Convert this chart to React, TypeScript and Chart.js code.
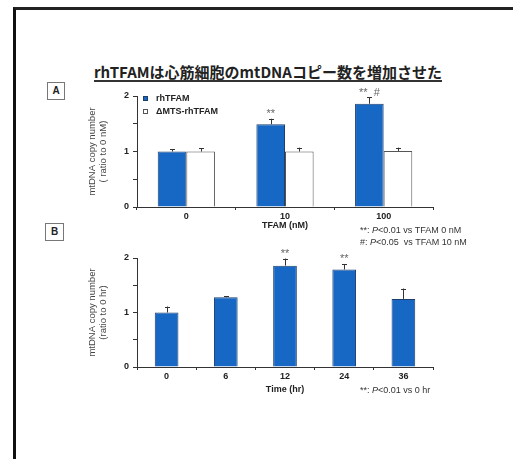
import React, { useEffect, useRef } from 'react';
import { Chart, registerables } from 'chart.js';

Chart.register(...registerables);

// ---------- data ----------
const doseLabels = ['0', '10', '100'];
const rhTFAM = [1.0, 1.49, 1.86];
const rhTFAMErr = [0.04, 0.1, 0.12];
const rhTFAMSig = ['', '**', '**  #'];
const mtsTFAM = [1.0, 1.0, 1.01];
const mtsTFAMErr = [0.06, 0.07, 0.06];
const mtsTFAMSig = ['', '', ''];

const timeLabels = ['0', '6', '12', '24', '36'];
const timeVals = [1.0, 1.28, 1.86, 1.79, 1.25];
const timeErr = [0.11, 0.02, 0.13, 0.1, 0.19];
const timeSig = ['', '', '**', '**', ''];

const yMin = 0;
const yMax = 2;
const yStep = 0.5;

const seriesNames = ['rhTFAM', 'ΔMTS-rhTFAM'];
const yTitleA = ['mtDNA copy number', '( ratio to 0 nM)'];
const yTitleB = ['mtDNA copy number', '(ratio to 0 hr)'];
const xTitleA = 'TFAM (nM)';
const xTitleB = 'Time (hr)';

const BLUE = '#1767c4';
const FONT = "'Liberation Sans', Arial, sans-serif";

const annotPlugin = {
  id: 'annot',
  afterDatasetsDraw(chart: any, _args: any, opts: any) {
    const ctx = chart.ctx;
    const ys = chart.scales.y;
    const ca = chart.chartArea;
    ctx.save();
    chart.data.datasets.forEach((ds: any, i: number) => {
      const meta = chart.getDatasetMeta(i);
      meta.data.forEach((bar: any, j: number) => {
        const v = ds.data[j];
        const base = ys.getPixelForValue(v);
        const top = ys.getPixelForValue(v + ds.errors[j]);
        ctx.strokeStyle = '#333';
        ctx.lineWidth = 1;
        ctx.beginPath();
        ctx.moveTo(Math.round(bar.x) + 0.5, base);
        ctx.lineTo(Math.round(bar.x) + 0.5, top);
        ctx.moveTo(Math.round(bar.x) - 2, Math.round(top) + 0.5);
        ctx.lineTo(Math.round(bar.x) + 3, Math.round(top) + 0.5);
        ctx.stroke();
        const s = ds.sig[j];
        if (s) {
          ctx.fillStyle = '#666';
          ctx.font = `11px ${FONT}`;
          ctx.textAlign = 'center';
          ctx.textBaseline = 'alphabetic';
          ctx.fillText(s, bar.x, top - 1.5);
        }
      });
    });
    // y title
    ctx.fillStyle = '#444';
    ctx.font = `9.5px ${FONT}`;
    ctx.textAlign = 'center';
    ctx.textBaseline = 'middle';
    ctx.translate(ca.left - 45, (ca.top + ca.bottom) / 2);
    ctx.rotate(-Math.PI / 2);
    ctx.fillText(opts.yTitle[0], 0, 0);
    ctx.fillText(opts.yTitle[1], 0, 11);
    ctx.restore();
    // x title
    ctx.save();
    ctx.fillStyle = '#222';
    ctx.font = `bold 9px ${FONT}`;
    ctx.textAlign = 'center';
    ctx.textBaseline = 'middle';
    ctx.fillText(opts.xTitle, (ca.left + ca.right) / 2, ca.bottom + opts.xTitleGap);
    // legend
    if (opts.legend) {
      chart.data.datasets.forEach((ds: any, i: number) => {
        const ly = ca.top + 2 + i * 13;
        const lx = ca.left + 6;
        ctx.fillStyle = ds.backgroundColor;
        ctx.fillRect(lx, ly - 2, 5, 5);
        ctx.strokeStyle = ds.borderColor;
        ctx.lineWidth = 1;
        ctx.strokeRect(lx + 0.5, ly - 1.5, 4, 4);
        ctx.fillStyle = '#222';
        ctx.font = `bold 9px ${FONT}`;
        ctx.textAlign = 'left';
        ctx.textBaseline = 'middle';
        ctx.fillText(ds.label, lx + 13, ly + 0.5);
      });
    }
    ctx.restore();
  },
};

function scales(tickColor = '#222') {
  return {
    x: {
      type: 'category' as const,
      afterFit(s: any) {
        s.height = 22;
      },
      grid: { display: true, drawOnChartArea: false, offset: true, tickLength: 3, color: '#333' },
      border: { display: true, color: '#333', width: 1 },
      ticks: { color: tickColor, font: { family: FONT, size: 9, weight: 'bold' as const }, padding: 1 },
    },
    y: {
      min: yMin,
      max: yMax,
      afterFit(s: any) {
        s.width = 137;
      },
      grid: { display: true, drawOnChartArea: false, tickLength: 4, color: '#333' },
      border: { display: true, color: '#333', width: 1 },
      ticks: {
        stepSize: yStep,
        color: tickColor,
        padding: 4,
        font: { family: FONT, size: 9, weight: 'bold' as const },
        callback: (v: any) => (Number.isInteger(Number(v)) ? String(v) : ''),
      },
    },
  };
}

function ChartA() {
  const ref = useRef<HTMLCanvasElement>(null);
  useEffect(() => {
    const chart = new Chart(ref.current!, {
      type: 'bar',
      data: {
        labels: doseLabels,
        datasets: [
          {
            label: seriesNames[0],
            data: rhTFAM,
            errors: rhTFAMErr,
            sig: rhTFAMSig,
            backgroundColor: BLUE,
            borderColor: '#1d3f6c',
            borderWidth: 1,
            categoryPercentage: 0.58,
            barPercentage: 1,
          } as any,
          {
            label: seriesNames[1],
            data: mtsTFAM,
            errors: mtsTFAMErr,
            sig: mtsTFAMSig,
            backgroundColor: '#ffffff',
            borderColor: '#555',
            borderWidth: 1,
            categoryPercentage: 0.58,
            barPercentage: 1,
          } as any,
        ],
      },
      options: {
        responsive: false,
        animation: false,
        devicePixelRatio: 1,
        layout: { padding: { left: 0, top: 96, right: 80, bottom: 459 - 207 - 22 } },
        scales: scales() as any,
        plugins: {
          legend: { display: false },
          tooltip: { enabled: false },
          annot: { yTitle: yTitleA, xTitle: xTitleA, xTitleGap: 19, legend: true },
        } as any,
      },
      plugins: [annotPlugin],
    });
    return () => chart.destroy();
  }, []);
  return <canvas ref={ref} width={513} height={459} style={{ position: 'absolute', left: 0, top: 0 }} />;
}

function ChartB() {
  const ref = useRef<HTMLCanvasElement>(null);
  useEffect(() => {
    const chart = new Chart(ref.current!, {
      type: 'bar',
      data: {
        labels: timeLabels,
        datasets: [
          {
            label: seriesNames[0],
            data: timeVals,
            errors: timeErr,
            sig: timeSig,
            backgroundColor: BLUE,
            borderColor: '#1d3f6c',
            borderWidth: 1,
            categoryPercentage: 0.4,
            barPercentage: 1,
          } as any,
        ],
      },
      options: {
        responsive: false,
        animation: false,
        devicePixelRatio: 1,
        layout: { padding: { left: 0, top: 258, right: 80, bottom: 459 - 367 - 22 } },
        scales: scales() as any,
        plugins: {
          legend: { display: false },
          tooltip: { enabled: false },
          annot: { yTitle: yTitleB, xTitle: xTitleB, xTitleGap: 23, legend: false },
        } as any,
      },
      plugins: [annotPlugin],
    });
    return () => chart.destroy();
  }, []);
  return <canvas ref={ref} width={513} height={459} style={{ position: 'absolute', left: 0, top: 0 }} />;
}

const noteStyle: React.CSSProperties = {
  position: 'absolute',
  left: 360,
  fontFamily: FONT,
  fontSize: 9,
  lineHeight: '11px',
  color: '#333',
  whiteSpace: 'nowrap',
};

const boxStyle: React.CSSProperties = {
  position: 'absolute',
  boxSizing: 'border-box',
  border: '1px solid #777',
  fontFamily: FONT,
  fontWeight: 'bold',
  fontSize: 10,
  textAlign: 'center',
  color: '#222',
};

export default function App() {
  return (
    <div
      style={{
        position: 'absolute',
        left: 0,
        top: 0,
        width: 513,
        height: 459,
        overflow: 'hidden',
        background: '#fff',
      }}
    >
      <div
        style={{
          position: 'absolute',
          left: 13,
          top: 7,
          width: 600,
          height: 600,
          borderTop: '3px solid #222',
          borderLeft: '3px solid #111',
        }}
      />
      <div
        style={{
          position: 'absolute',
          left: 0,
          width: 536,
          top: 64,
          textAlign: 'center',
        }}
      >
        <span
          style={{
            display: 'inline-block',
            fontFamily: "'Noto Sans CJK JP', sans-serif",
            fontWeight: 'bold',
            fontSize: 15,
            lineHeight: '15px',
            color: '#222',
            borderBottom: '2px solid #333',
            paddingBottom: 1,
            letterSpacing: 0,
          }}
        >
          rhTFAMは心筋細胞のmtDNAコピー数を増加させた
        </span>
      </div>
      <div style={{ ...boxStyle, left: 47, top: 82, width: 18, height: 18, lineHeight: '16px' }}>A</div>
      <div style={{ ...boxStyle, left: 45, top: 223, width: 19, height: 18, lineHeight: '16px' }}>B</div>
      <ChartA />
      <ChartB />
      <div style={{ ...noteStyle, top: 225 }}>
        **: <i>P</i>&lt;0.01 vs TFAM 0 nM
      </div>
      <div style={{ ...noteStyle, top: 237 }}>
        #: <i>P</i>&lt;0.05&nbsp; vs TFAM 10 nM
      </div>
      <div style={{ ...noteStyle, top: 385 }}>
        **: <i>P</i>&lt;0.01 vs 0 hr
      </div>
    </div>
  );
}
